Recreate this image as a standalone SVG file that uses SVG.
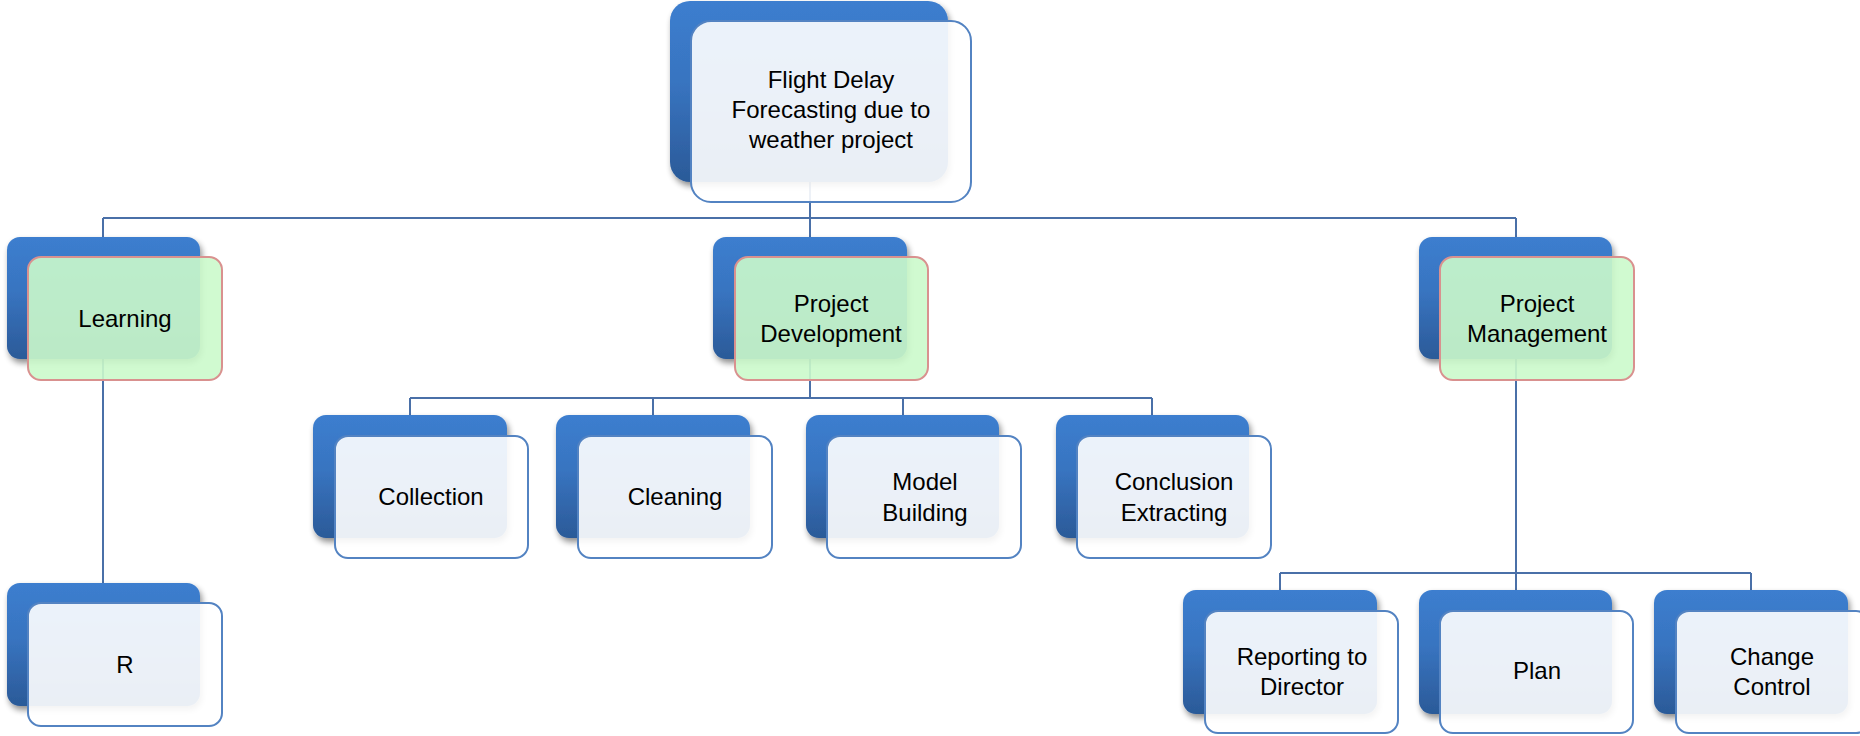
<svg xmlns="http://www.w3.org/2000/svg" width="1860" height="736" viewBox="0 0 1860 736">
<defs>
<linearGradient id="backGrad" x1="0" y1="0" x2="0" y2="1">
<stop offset="0" stop-color="#3C7ECF"/>
<stop offset="0.45" stop-color="#3874C0"/>
<stop offset="1" stop-color="#2B5A98"/>
</linearGradient>
<filter id="shadow" x="-10%" y="-10%" width="125%" height="130%">
<feGaussianBlur in="SourceAlpha" stdDeviation="3"/>
<feOffset dx="2" dy="4" result="b"/>
<feComponentTransfer><feFuncA type="linear" slope="0.45"/></feComponentTransfer>
<feMerge><feMergeNode/><feMergeNode in="SourceGraphic"/></feMerge>
</filter>
</defs>
<style>
.back{fill:url(#backGrad);filter:url(#shadow);}
.front{fill:#FFFFFF;fill-opacity:0.9;stroke:#5383C2;stroke-width:2;}
.green{fill:#CBF9CB;fill-opacity:0.9;stroke:#D9918F;stroke-width:2;}
.conn{fill:none;stroke:#4A70A8;stroke-width:2;}
text{font-family:"Liberation Sans",Arial,sans-serif;font-size:24px;fill:#000000;text-anchor:middle;}
</style>
<rect width="1860" height="736" fill="#FFFFFF"/>
<g id="connectors">
<path class="conn" d="M810,150 V218 M103,218 H1516 M103,218 V583 M810,218 V398 M1516,218 V573"/>
<path class="conn" d="M410,398 H1152 M410,398 V415 M653,398 V415 M903,398 V415 M1152,398 V415"/>
<path class="conn" d="M1280,573 H1751 M1280,573 V590 M1516,573 V590 M1751,573 V590"/>
</g>
<g id="root">
<rect class="back" x="670" y="1" width="278" height="181" rx="20"/>
<rect class="front" x="691" y="21" width="280" height="181" rx="20"/>
<text x="831" y="88">Flight Delay</text>
<text x="831" y="118">Forecasting due to</text>
<text x="831" y="148">weather project</text>
</g>
<g id="learning">
<rect class="back" x="7" y="237" width="193" height="122" rx="13"/>
<rect class="green" x="28" y="257" width="194" height="123" rx="13"/>
<text x="125" y="327">Learning</text>
</g>
<g id="project-development">
<rect class="back" x="713" y="237" width="194" height="122" rx="13"/>
<rect class="green" x="735" y="257" width="193" height="123" rx="13"/>
<text x="831" y="312">Project</text>
<text x="831" y="342">Development</text>
</g>
<g id="project-management">
<rect class="back" x="1419" y="237" width="193" height="122" rx="13"/>
<rect class="green" x="1440" y="257" width="194" height="123" rx="13"/>
<text x="1537" y="312">Project</text>
<text x="1537" y="342">Management</text>
</g>
<g id="r">
<rect class="back" x="7" y="583" width="193" height="123" rx="13"/>
<rect class="front" x="28" y="603" width="194" height="123" rx="13"/>
<text x="125" y="673">R</text>
</g>
<g id="collection">
<rect class="back" x="313" y="415" width="194" height="123" rx="13"/>
<rect class="front" x="335" y="436" width="193" height="122" rx="13"/>
<text x="431" y="505">Collection</text>
</g>
<g id="cleaning">
<rect class="back" x="556" y="415" width="194" height="123" rx="13"/>
<rect class="front" x="578" y="436" width="194" height="122" rx="13"/>
<text x="675" y="505">Cleaning</text>
</g>
<g id="model-building">
<rect class="back" x="806" y="415" width="193" height="123" rx="13"/>
<rect class="front" x="827" y="436" width="194" height="122" rx="13"/>
<text x="925" y="490">Model</text>
<text x="925" y="521">Building</text>
</g>
<g id="conclusion-extracting">
<rect class="back" x="1056" y="415" width="193" height="123" rx="13"/>
<rect class="front" x="1077" y="436" width="194" height="122" rx="13"/>
<text x="1174" y="490">Conclusion</text>
<text x="1174" y="521">Extracting</text>
</g>
<g id="reporting-to-director">
<rect class="back" x="1183" y="590" width="194" height="124" rx="13"/>
<rect class="front" x="1205" y="611" width="193" height="122" rx="13"/>
<text x="1302" y="665">Reporting to</text>
<text x="1302" y="695">Director</text>
</g>
<g id="plan">
<rect class="back" x="1419" y="590" width="193" height="124" rx="13"/>
<rect class="front" x="1440" y="611" width="193" height="122" rx="13"/>
<text x="1537" y="679">Plan</text>
</g>
<g id="change-control">
<rect class="back" x="1654" y="590" width="194" height="124" rx="13"/>
<rect class="front" x="1676" y="611" width="193" height="122" rx="13"/>
<text x="1772" y="665">Change</text>
<text x="1772" y="695">Control</text>
</g>
</svg>
